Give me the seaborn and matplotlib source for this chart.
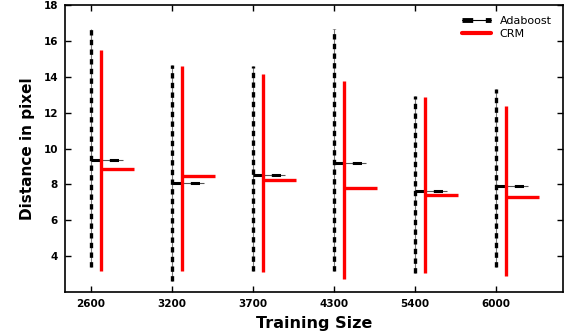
import numpy as np
import pandas as pd
import matplotlib
matplotlib.use("Agg")
import matplotlib.pyplot as plt
import seaborn as sns
from matplotlib.lines import Line2D

sizes = ["2600", "3200", "3700", "4300", "5400", "6000"]
ada_max = [16.64, 14.64, 14.60, 16.69, 12.92, 13.33]
ada_min = [3.40, 2.63, 3.19, 3.15, 3.06, 3.40]
ada_mean = [9.37, 8.10, 8.53, 9.22, 7.62, 7.92]
crm_max = [15.48, 14.60, 14.13, 13.76, 12.86, 12.36]
crm_min = [3.19, 3.19, 3.12, 2.74, 3.06, 2.91]
crm_mean = [8.85, 8.44, 8.23, 7.82, 7.41, 7.28]

sns.set_style("ticks")
plt.rcParams['font.family'] = ['DejaVu Sans']
plt.rcParams['text.color'] = 'black'
plt.rcParams['axes.labelcolor'] = 'black'
plt.rcParams['xtick.color'] = 'black'
plt.rcParams['ytick.color'] = 'black'

fig = plt.figure(figsize=(5.73, 3.36), dpi=100)
ax = fig.add_axes([0.1134, 0.131, 0.8691, 0.854])

pos = np.arange(len(sizes))
off = 0.13
hl = 0.40

# Adaboost: thin grey line under thick black dashes
ax.vlines(pos, ada_min, ada_max, color="#777777", lw=0.8, zorder=2)
ax.vlines(pos, ada_min, ada_max, color="black", lw=2.4, linestyles=(0, (1.6, 1.3)), zorder=3)
ax.hlines(ada_mean, pos, pos + hl, color="#555555", lw=0.8, zorder=2)
ax.hlines(ada_mean, pos, pos + hl, color="black", lw=2.2, linestyles=(0, (3, 3)), zorder=3)

# CRM
ax.vlines(pos + off, crm_min, crm_max, color="red", lw=2.4, zorder=4)
ax.hlines(crm_mean, pos + off, pos + off + hl, color="red", lw=2.4, zorder=4)

ax.set_xlim(-0.32, 5.83)
ax.set_ylim(2, 18)
ax.set_xticks(pos)
ax.set_xticklabels(sizes)
ax.set_yticks([4, 6, 8, 10, 12, 14, 16, 18])
ax.tick_params(direction="in", top=True, right=True, length=4, width=1, labelsize=7.5, pad=5)
for lbl in ax.get_xticklabels() + ax.get_yticklabels():
    lbl.set_fontweight("bold")
for s in ax.spines.values():
    s.set_linewidth(1.2)
    s.set_color("black")

ax.set_xlabel("Training Size", fontsize=11.5, fontweight="bold", labelpad=5)
ax.set_ylabel("Distance in pixel", fontsize=11, fontweight="bold", labelpad=6)

h_thin = Line2D([0], [0], color="black", lw=0.8)
h_dash = Line2D([0], [0], color="black", lw=3.5, linestyle=(0, (2.2, 2.6)))
h_crm = Line2D([0], [0], color="red", lw=3)
ax.legend([(h_thin, h_dash), h_crm], ["Adaboost", "CRM"], loc="upper right", frameon=False,
          fontsize=8, handlelength=2.6, borderaxespad=0.6, labelspacing=0.25)

fig.savefig("out.png", dpi=100)
